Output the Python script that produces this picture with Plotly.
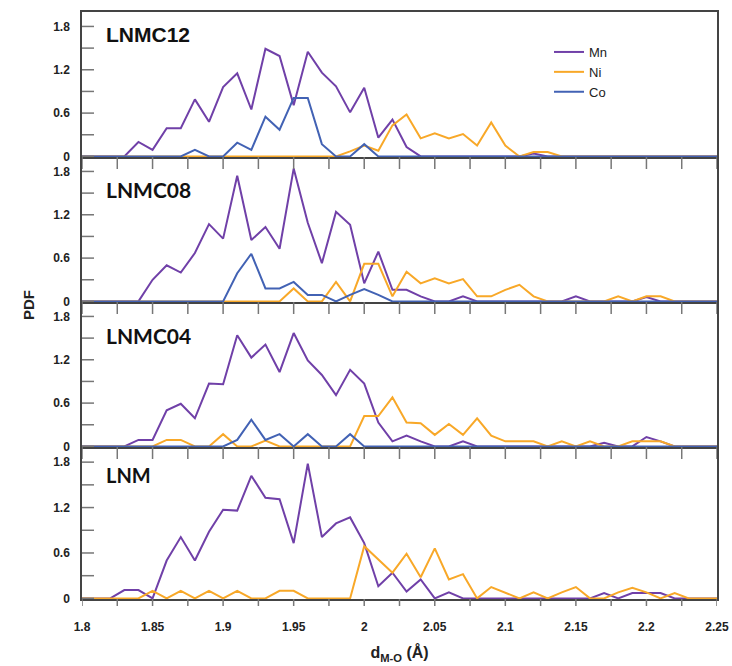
import plotly.graph_objects as go
from plotly.subplots import make_subplots

# distance values d_M-O (Å)
d_vals = [1.80, 1.81, 1.82, 1.83, 1.84, 1.85, 1.86, 1.87, 1.88, 1.89,
          1.90, 1.91, 1.92, 1.93, 1.94, 1.95, 1.96, 1.97, 1.98, 1.99,
          2.00, 2.01, 2.02, 2.03, 2.04, 2.05, 2.06, 2.07, 2.08, 2.09,
          2.10, 2.11, 2.12, 2.13, 2.14, 2.15, 2.16, 2.17, 2.18, 2.19,
          2.20, 2.21, 2.22, 2.23, 2.24, 2.25]

# LNMC12
lnmc12_mn = [0, 0, 0, 0, 0.20, 0.09, 0.39, 0.39, 0.79, 0.48,
             0.96, 1.15, 0.65, 1.49, 1.39, 0.71, 1.45, 1.16, 0.97, 0.61,
             0.95, 0.26, 0.51, 0.13, 0, 0, 0, 0, 0, 0,
             0, 0, 0.04, 0, 0, 0, 0, 0, 0, 0,
             0, 0, 0, 0, 0, 0]
lnmc12_ni = [0, 0, 0, 0, 0, 0, 0, 0, 0, 0,
             0, 0, 0, 0, 0, 0, 0, 0, 0, 0.07,
             0.15, 0.08, 0.43, 0.58, 0.25, 0.32, 0.25, 0.31, 0.15, 0.47,
             0.15, 0, 0.06, 0.06, 0, 0, 0, 0, 0, 0,
             0, 0, 0, 0, 0, 0]
lnmc12_co = [0, 0, 0, 0, 0, 0, 0, 0, 0.09, 0,
             0, 0.19, 0.09, 0.55, 0.37, 0.81, 0.81, 0.17, 0, 0,
             0.17, 0, 0, 0, 0, 0, 0, 0, 0, 0,
             0, 0, 0, 0, 0, 0, 0, 0, 0, 0,
             0, 0, 0, 0, 0, 0]

# LNMC08
lnmc08_mn = [0, 0, 0, 0, 0, 0.30, 0.50, 0.40, 0.67, 1.07,
             0.87, 1.74, 0.85, 1.03, 0.73, 1.84, 1.09, 0.53, 1.24, 1.06,
             0.25, 0.69, 0.16, 0.16, 0.07, 0, 0, 0.07, 0, 0,
             0, 0, 0, 0, 0, 0.07, 0, 0, 0, 0,
             0.06, 0, 0, 0, 0, 0]
lnmc08_ni = [0, 0, 0, 0, 0, 0, 0, 0, 0, 0,
             0, 0, 0, 0, 0, 0.18, 0, 0, 0.27, 0,
             0.52, 0.52, 0.07, 0.41, 0.25, 0.32, 0.25, 0.31, 0.07, 0.07,
             0.16, 0.23, 0.07, 0, 0, 0, 0, 0, 0.07, 0,
             0.07, 0.07, 0, 0, 0, 0]
lnmc08_co = [0, 0, 0, 0, 0, 0, 0, 0, 0, 0,
             0, 0.39, 0.66, 0.18, 0.18, 0.27, 0.09, 0.09, 0, 0.09,
             0.17, 0.09, 0, 0, 0, 0, 0, 0, 0, 0,
             0, 0, 0, 0, 0, 0, 0, 0, 0, 0,
             0, 0, 0, 0, 0, 0]

# LNMC04
lnmc04_mn = [0, 0, 0, 0, 0.09, 0.09, 0.50, 0.59, 0.39, 0.87,
             0.86, 1.54, 1.23, 1.41, 1.03, 1.57, 1.19, 0.99, 0.71, 1.06,
             0.87, 0.33, 0.07, 0.15, 0.07, 0, 0, 0.07, 0, 0,
             0, 0, 0, 0, 0, 0, 0, 0.05, 0, 0,
             0.13, 0.07, 0, 0, 0, 0]
lnmc04_ni = [0, 0, 0, 0, 0, 0, 0.09, 0.09, 0, 0,
             0.17, 0, 0, 0.08, 0, 0, 0, 0, 0, 0,
             0.42, 0.42, 0.68, 0.33, 0.32, 0.16, 0.31, 0.16, 0.39, 0.15,
             0.07, 0.07, 0.07, 0, 0.07, 0, 0.07, 0, 0, 0.07,
             0.07, 0.07, 0, 0, 0, 0]
lnmc04_co = [0, 0, 0, 0, 0, 0, 0, 0, 0, 0,
             0, 0.09, 0.37, 0.09, 0.17, 0, 0.17, 0, 0, 0.17,
             0, 0, 0, 0, 0, 0, 0, 0, 0, 0,
             0, 0, 0, 0, 0, 0, 0, 0, 0, 0,
             0, 0, 0, 0, 0, 0]

# LNM
lnm_mn = [0, 0, 0, 0.11, 0.11, 0, 0.50, 0.81, 0.50, 0.88,
          1.17, 1.16, 1.62, 1.33, 1.31, 0.73, 1.78, 0.81, 0.99, 1.07,
          0.73, 0.16, 0.34, 0.09, 0.25, 0, 0.08, 0, 0, 0,
          0, 0, 0, 0, 0, 0, 0, 0.07, 0, 0.07,
          0.07, 0.07, 0, 0, 0, 0]
lnm_ni = [0, 0, 0, 0, 0, 0.10, 0, 0.10, 0, 0.10,
          0, 0.10, 0, 0, 0.10, 0.10, 0, 0, 0, 0,
          0.69, 0.52, 0.34, 0.59, 0.28, 0.66, 0.25, 0.32, 0, 0.15,
          0.08, 0, 0.08, 0, 0.08, 0.15, 0, 0, 0.08, 0.14,
          0.08, 0, 0.07, 0, 0, 0]

panel_names = ["LNMC12", "LNMC08", "LNMC04", "LNM"]
panels = [
    {"Mn": lnmc12_mn, "Ni": lnmc12_ni, "Co": lnmc12_co},
    {"Mn": lnmc08_mn, "Ni": lnmc08_ni, "Co": lnmc08_co},
    {"Mn": lnmc04_mn, "Ni": lnmc04_ni, "Co": lnmc04_co},
    {"Mn": lnm_mn, "Ni": lnm_ni},
]
colors = {"Mn": "#7040A8", "Ni": "#F8A828", "Co": "#4262B4"}

x_tickvals = [1.8, 1.825, 1.85, 1.875, 1.9, 1.925, 1.95, 1.975, 2.0, 2.025,
              2.05, 2.075, 2.1, 2.125, 2.15, 2.175, 2.2, 2.225, 2.25]
x_ticktext = ["1.8", " ", "1.85", " ", "1.9", " ", "1.95", " ", "2", " ",
              "2.05", " ", "2.1", " ", "2.15", " ", "2.2", " ", "2.25"]
y_tickvals = [0, 0.3, 0.6, 0.9, 1.2, 1.5, 1.8]
y_ticktext = ["0", " ", "0.6", " ", "1.2", " ", "1.8"]

fig = make_subplots(rows=4, cols=1, shared_xaxes=False, vertical_spacing=0)

for i, p in enumerate(panels):
    for name in ["Mn", "Ni", "Co"]:
        if name not in p:
            continue
        fig.add_trace(go.Scatter(
            x=d_vals, y=p[name], mode="lines", name=name,
            line=dict(color=colors[name], width=2),
            showlegend=(i == 0)), row=i + 1, col=1)

# plot-area geometry (pixels): top 12, bottom 599
H = 666
top_px, bot_px = 12, 599
span = bot_px - top_px
plot_w = 635
bounds = [(12, 157), (157, 302), (302, 447), (447, 599)]

def py(v):
    return (bot_px - v) / span

def bold(s):
    return f"<b>{s}</b>" if s.strip() else s

for i, (t, b) in enumerate(bounds):
    ax = "yaxis" if i == 0 else f"yaxis{i+1}"
    xa = "xaxis" if i == 0 else f"xaxis{i+1}"
    fig.layout[ax].update(
        domain=[py(b), py(t)], range=[-0.008, 2.0], automargin=False,
        tickmode="array", tickvals=y_tickvals, ticktext=[bold(s) for s in y_ticktext],
        ticks="", showline=True, linecolor="#444", linewidth=1.5, mirror=True,
        showgrid=False, zeroline=False,
        tickfont=dict(family="Arial", size=12, color="#222"),
        ticklabelstandoff=8)
    last = (i == 3)
    fig.layout[xa].update(
        range=[1.8, 2.25], tickmode="array", tickvals=x_tickvals, automargin=False,
        ticktext=[bold(s) for s in x_ticktext],
        showticklabels=last, ticks="",
        showline=True, linecolor="#444", linewidth=1.5, mirror=(i == 0),
        showgrid=False, zeroline=False,
        tickfont=dict(family="Arial", size=12, color="#222"))

fig.layout.xaxis4.update(
    ticklabelstandoff=16,
    title=dict(text="<b>d<sub>M-O</sub> (Å)</b>",
               font=dict(family="Arial", size=16, color="#222"), standoff=14))

# tick marks drawn at the axis tick values
tick_line = dict(color="#777", width=1.5)
for i, (t, b) in enumerate(bounds):
    xr = "x" if i == 0 else f"x{i+1}"
    yr = "y" if i == 0 else f"y{i+1}"
    h = b - t
    # y ticks, inside on the left edge
    for tv in y_tickvals:
        fig.add_shape(type="line", xref=f"{xr} domain", yref=yr,
                      x0=0, x1=12 / plot_w, y0=tv, y1=tv, line=tick_line, layer="above")
    # x ticks hanging from the top edge of the lower panels
    if i > 0:
        for tv in x_tickvals:
            fig.add_shape(type="line", xref=xr, yref=f"{yr} domain",
                          x0=tv, x1=tv, y0=1, y1=1 - 12 / h, line=tick_line, layer="above")
# short outside ticks under the bottom axis
for tv in x_tickvals:
    fig.add_shape(type="line", xref="x4", yref="paper",
                  x0=tv, x1=tv, y0=0, y1=-7 / span, line=tick_line, layer="above")

label_fonts = [dict(family="Liberation Sans", size=21, color="#111"),
               dict(family="Lato", size=21, color="#111"),
               dict(family="Lato", size=21, color="#111"),
               dict(family="Lato", size=20, color="#111")]
label_ypx = [33, 188, 334, 474]
for name, f, ycen in zip(panel_names, label_fonts, label_ypx):
    fig.add_annotation(text=f"<b>{name}</b>", xref="paper", yref="paper",
                       x=(104 - 82) / 635, y=py(ycen + 1), xanchor="left", yanchor="middle",
                       showarrow=False, font=f)

fig.add_annotation(text="<b>PDF</b>", xref="paper", yref="paper",
                   x=(28 - 82) / 635, y=py(305), xanchor="center", yanchor="middle",
                   textangle=-90, showarrow=False,
                   font=dict(family="Arial", size=15, color="#222"))

fig.update_layout(
    width=732, height=666,
    margin=dict(l=82, r=15, t=12, b=H - 599),
    paper_bgcolor="white", plot_bgcolor="rgba(0,0,0,0)",
    legend=dict(x=(549 - 82) / 635, y=py(37), xanchor="left", yanchor="top",
                font=dict(family="Arial", size=13, color="#222"),
                bgcolor="rgba(255,255,255,0)", tracegroupgap=0),
)

fig.write_html("out.html", config={"displayModeBar": False},
               post_script="document.body.style.margin='0px';document.body.style.padding='0px';")
